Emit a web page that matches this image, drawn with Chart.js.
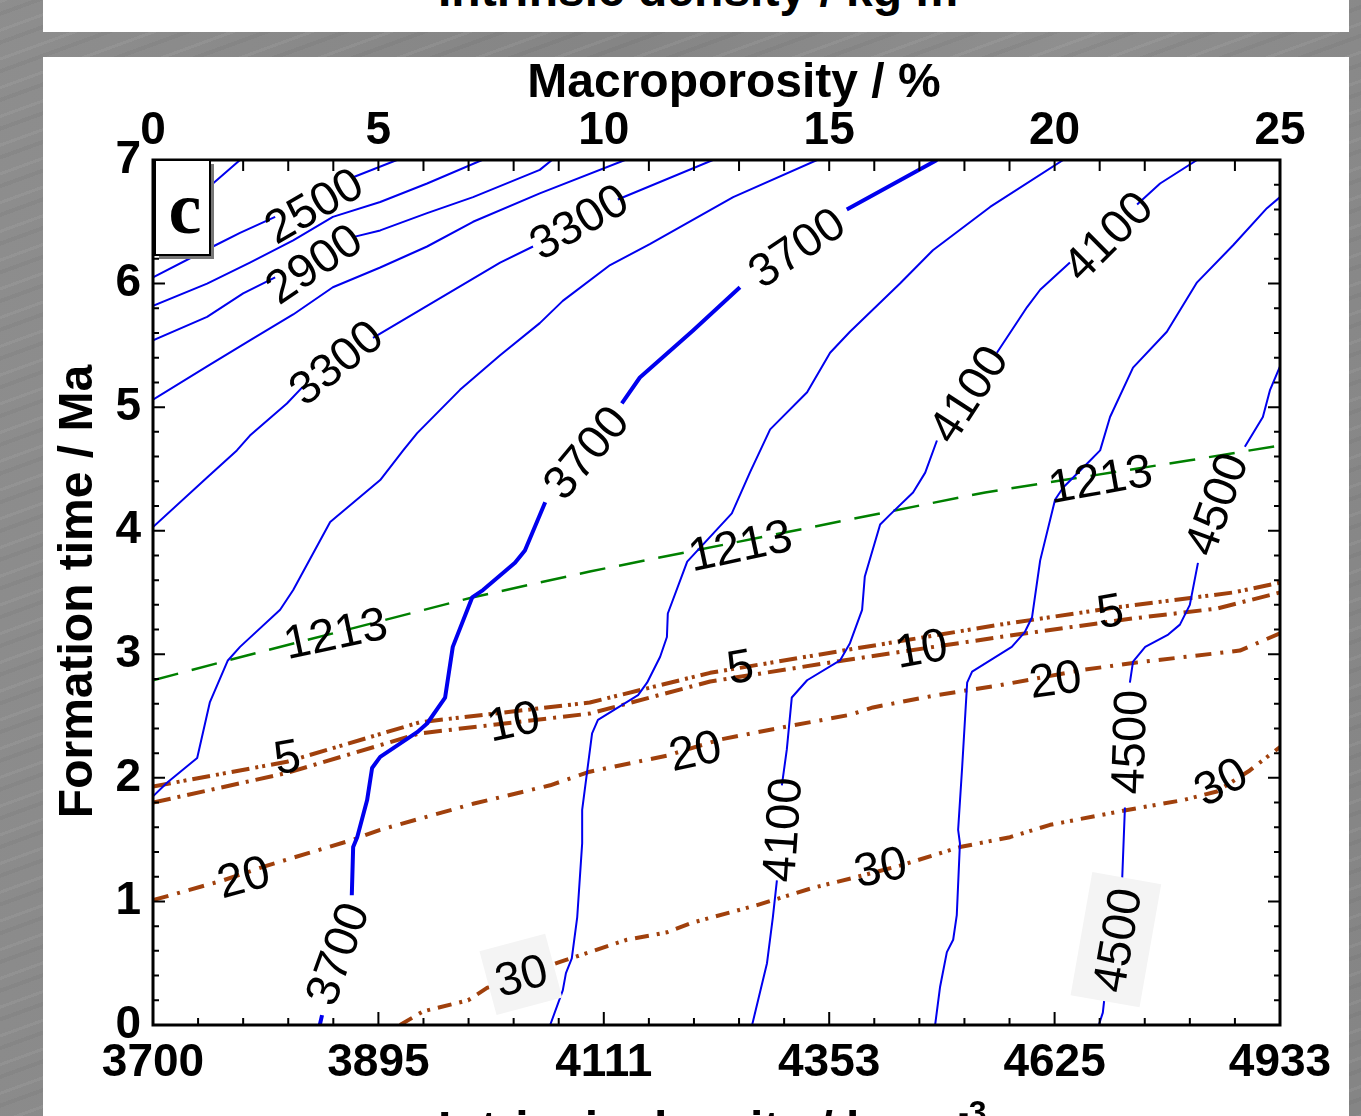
<!DOCTYPE html>
<html>
<head>
<meta charset="utf-8">
<script src="https://cdn.jsdelivr.net/npm/chart.js@4.4.1/dist/chart.umd.min.js"></script>
<style>
  body {
    margin: 0; width: 1361px; height: 1116px; overflow: hidden; position: relative;
    background-color: #898989;
    background-image:
      repeating-linear-gradient(160deg, rgba(255,255,255,.06) 0 3px, rgba(255,255,255,0) 3px 11px, rgba(0,0,0,.04) 11px 15px, rgba(255,255,255,0) 15px 27px),
      linear-gradient(100deg, rgba(255,255,255,.04), rgba(0,0,0,.03) 40%, rgba(255,255,255,.05) 70%, rgba(0,0,0,.03));
  }
  .panel { position: absolute; background: #fff; }
  .titulo { position: absolute; font: bold 48px "Liberation Sans", Arial, sans-serif; line-height: 48px; white-space: nowrap; color: #000; }
  .titulo sup { font-size: 32px; vertical-align: baseline; position: relative; top: -22px; }
</style>
</head>
<body>
<div class="panel" style="left:43px;top:0;width:1306px;height:32px;overflow:hidden">
  <div class="titulo" style="left:395px;top:-34px">Intrinsic density / kg m<sup>-3</sup></div>
</div>
<div class="panel" style="left:43px;top:57px;width:1306px;height:1059px"></div>
<canvas id="grafico" width="1306" height="1059" style="position:absolute;left:43px;top:57px"></canvas>
<div class="titulo" style="left:438px;top:1105px">Intrinsic density / kg m<sup>-3</sup></div>

<script>
// eje x: macroporosidad (%), eje y: tiempo de formacion (Ma)
const etiquetasDensidad = ['3700', '3895', '4111', '4353', '4625', '4933'];

// isolineas de densidad intrinseca (null = hueco para la etiqueta)
const dens2300 = [[0, 6.40], [1.33, 6.81], [1.93, 7.0]];
const dens2500 = [[0, 6.05], [1.33, 6.30], [1.93, 6.41], [2.71, 6.54], null, [4.44, 6.86], [5.41, 7.0]];
const dens2700 = [[0, 5.82], [1.20, 6.00], [2.15, 6.17], [3.11, 6.35], [3.99, 6.54], [5.04, 6.66], [6.08, 6.81], [7.30, 7.0]];
const dens2900 = [[0, 5.54], [1.20, 5.73], [2.00, 5.92], [2.71, 6.05], null, [4.48, 6.38], [5.04, 6.43], [6.08, 6.57], [7.10, 6.70], [8.58, 6.92], [8.85, 7.0]];
const dens3100 = [[0, 5.06], [1.20, 5.33], [2.15, 5.54], [3.11, 5.75], [3.99, 5.97], [5.04, 6.13], [6.08, 6.30], [7.10, 6.50], [8.58, 6.73], [10.47, 7.0]];
const dens3300 = [[0, 4.03], [1.20, 4.43], [1.86, 4.65], [2.15, 4.77], [2.97, 5.03], [3.31, 5.16], null, [4.88, 5.56], [7.70, 6.17], [8.43, 6.30], null, [10.31, 6.68], [12.42, 7.0]];
const dens3500 = [[0, 1.85], [0.31, 1.96], [0.98, 2.16], [1.26, 2.61], [1.66, 2.95], [1.93, 3.06], [2.82, 3.36], [3.11, 3.52], [3.93, 4.07], [5.04, 4.41], [5.55, 4.65], [5.86, 4.79], [6.81, 5.14], [7.70, 5.42], [8.58, 5.68], [9.09, 5.86], [10.14, 6.15], [11.02, 6.32], [12.87, 6.70], [14.73, 7.0]];
const dens3700 = [[3.70, 0], [3.75, 0.08], null, [4.41, 1.05], [4.44, 1.44], [4.53, 1.52], [4.75, 1.82], [4.86, 2.08], [5.04, 2.17], [5.86, 2.37], [6.08, 2.44], [6.48, 2.65], [6.65, 3.06], [7.08, 3.46], [7.32, 3.52], [8.03, 3.74], [8.25, 3.84], [8.70, 4.23], null, [10.40, 5.03], [10.80, 5.24], [11.98, 5.62], [13.02, 5.97], null, [15.39, 6.60], [17.39, 7.0]];
const dens3900 = [[8.81, 0], [9.09, 0.28], [9.16, 0.42], [9.29, 0.54], [9.41, 0.87], [9.52, 1.47], [9.52, 1.74], [9.74, 2.36], [9.87, 2.47], [10.76, 2.67], [10.96, 2.77], [11.25, 2.98], [11.40, 3.14], [11.42, 3.33], [11.85, 3.75], [12.84, 4.14], [13.24, 4.47], [13.69, 4.82], [14.51, 5.12], [15.02, 5.44], [15.46, 5.61], [16.57, 6.00], [17.30, 6.27], [18.57, 6.62], [20.19, 7.0]];
const dens4100 = [[13.29, 0], [13.62, 0.50], [13.75, 0.87], [13.84, 1.17], null, [13.95, 1.94], [14.06, 2.23], [14.17, 2.65], [14.51, 2.79], [15.24, 2.95], [15.46, 3.09], [15.73, 3.36], [15.79, 3.63], [16.13, 4.05], [16.35, 4.13], [16.86, 4.31], [17.13, 4.47], [17.39, 4.73], null, [18.72, 5.44], [19.39, 5.81], [19.68, 5.95], [20.34, 6.17], null, [21.83, 6.64], [22.34, 6.81], [23.16, 7.0]];
const dens4300 = [[17.35, 0], [17.46, 0.31], [17.61, 0.59], [17.75, 0.69], [17.83, 0.89], [17.90, 1.47], [17.86, 1.58], [17.95, 2.09], [18.06, 2.77], [18.17, 2.86], [18.57, 2.95], [19.05, 3.06], [19.34, 3.18], [19.50, 3.30], [19.68, 3.76], [20.01, 4.25], [20.19, 4.35], [20.74, 4.55], [21.01, 4.65], [21.23, 4.92], [21.74, 5.32], [22.49, 5.61], [23.16, 6.01], [23.96, 6.31], [24.71, 6.61], [25, 6.70]];
const dens4500 = [[20.98, 0], [21.07, 0.10], [21.10, 0.20], null, [21.50, 1.19], [21.56, 1.76], null, [21.67, 2.77], [21.74, 2.94], [22.01, 3.06], [22.52, 3.16], [22.78, 3.24], [23.00, 3.40], [23.18, 3.74], null, [24.22, 4.68], [24.62, 4.92], [24.78, 5.14], [25, 5.33]];

// linea 1213 (verde) y curvas 5, 10, 20, 30 (marrones)
const linea1213 = [[0, 2.79], [1.66, 2.95], [7.08, 3.46], [9.69, 3.67], [18.46, 4.31], [23.0, 4.57], [25, 4.69]];
const curva5 = [[0, 1.93], [2.97, 2.13], [5.92, 2.45], [9.69, 2.61], [12.36, 2.85], [15.31, 3.03], [18.79, 3.24], [21.38, 3.38], [23.96, 3.50], [25, 3.58]];
const curva10 = [[0, 1.80], [2.97, 2.04], [5.92, 2.36], [9.69, 2.52], [12.36, 2.78], [15.31, 2.95], [18.79, 3.14], [21.74, 3.29], [23.60, 3.37], [25, 3.50]];
const curva20 = [[0, 1.01], [1.55, 1.17], [2.53, 1.29], [4.44, 1.50], [5.04, 1.58], [7.10, 1.79], [8.81, 1.94], [9.69, 2.05], [11.40, 2.18], [12.58, 2.31], [13.98, 2.41], [15.46, 2.51], [15.97, 2.57], [17.39, 2.67], [18.79, 2.75], [20.56, 2.87], [21.74, 2.93], [24.11, 3.03], [25, 3.17]];
const curva30 = [[5.48, 0], [5.99, 0.11], [6.99, 0.20], [7.41, 0.30], [9.03, 0.51], [10.51, 0.69], [11.40, 0.75], [11.98, 0.83], [13.40, 0.97], [14.64, 1.11], [15.53, 1.19], [16.57, 1.29], [17.90, 1.44], [19.01, 1.52], [19.90, 1.62], [21.61, 1.74], [22.85, 1.82], [23.60, 1.89], [24.33, 2.06], [25, 2.25]];

// etiquetas de las curvas: texto, posicion (x, y)
const etiquetas = [
  ['2500', 3.55, 6.64], ['2900', 3.55, 6.17], ['3300', 4.04, 5.37], ['3300', 9.43, 6.51],
  ['3700', 4.06, 0.58], ['3700', 9.58, 4.64], ['3700', 14.26, 6.30],
  ['4100', 13.93, 1.58], ['4100', 18.06, 5.11], ['4100', 21.16, 6.39],
  ['4500', 21.36, 0.69], ['4500', 21.63, 2.29], ['4500', 23.56, 4.22],
  ['1213', 4.04, 3.18], ['1213', 13.02, 3.89], ['1213', 21.01, 4.43],
  ['5', 2.97, 2.18], ['10', 7.99, 2.47], ['5', 13.02, 2.91], ['10', 17.04, 3.06], ['5', 21.23, 3.36],
  ['20', 2.00, 1.21], ['20', 12.02, 2.23], ['20', 20.01, 2.81],
  ['30', 8.16, 0.41], ['30', 16.13, 1.29], ['30', 23.67, 1.98]
];
// angulo de cada etiqueta (grados) y recuadro gris opcional
const angulos = [-30, -34, -39, -30, -70, -50, -34, -86, -57, -45, -80, -88, -70, -12, -12, -10,
  -10, -12, -10, -10, -10, -15, -12, -8, -15, -12, -28];
const recuadros = { 10: [125, 70], 24: [68, 66] };

const azul = '#0000ee';
const verde = '#008000';
const marron = '#a0400c';
const fuente = '"Liberation Sans", Arial, sans-serif';

const curvas = [
  { datos: dens2300, color: azul, ancho: 2 },
  { datos: dens2500, color: azul, ancho: 2 },
  { datos: dens2700, color: azul, ancho: 2 },
  { datos: dens2900, color: azul, ancho: 2 },
  { datos: dens3100, color: azul, ancho: 2 },
  { datos: dens3300, color: azul, ancho: 2 },
  { datos: dens3500, color: azul, ancho: 2 },
  { datos: dens3700, color: azul, ancho: 4 },
  { datos: dens3900, color: azul, ancho: 2 },
  { datos: dens4100, color: azul, ancho: 2 },
  { datos: dens4300, color: azul, ancho: 2 },
  { datos: dens4500, color: azul, ancho: 2 },
  { datos: linea1213, color: verde, ancho: 2.5, guion: [26, 14] },
  { datos: curva5, color: marron, ancho: 4, guion: [18, 6, 3, 4, 3, 6] },
  { datos: curva10, color: marron, ancho: 4, guion: [18, 7, 3, 7] },
  { datos: curva20, color: marron, ancho: 4, guion: [16, 9, 3, 9] },
  { datos: curva30, color: marron, ancho: 4, guion: [14, 8, 3, 6, 3, 8] }
];

function puntos(lista) {
  let ultimo = 0;
  return lista.map(p => {
    if (p) {
      ultimo = p[0];
      return { x: p[0], y: p[1] };
    }
    return { x: ultimo, y: null };
  });
}

const marco = {
  id: 'marco',
  afterDatasetsDraw(chart) {
    const { ctx, chartArea: ca, scales } = chart;
    const sx = scales.x, sy = scales.y;

    // etiquetas de las curvas
    ctx.save();
    ctx.font = '47px ' + fuente;
    ctx.textAlign = 'center';
    ctx.textBaseline = 'alphabetic';
    etiquetas.forEach((e, i) => {
      ctx.save();
      ctx.translate(sx.getPixelForValue(e[1]), sy.getPixelForValue(e[2]));
      ctx.rotate(angulos[i] * Math.PI / 180);
      const caja = recuadros[i];
      if (caja) {
        ctx.fillStyle = '#f4f4f4';
        ctx.fillRect(-caja[0] / 2, -caja[1] / 2, caja[0], caja[1]);
      }
      ctx.fillStyle = '#000';
      ctx.fillText(e[0], 0, 16.8);
      ctx.restore();
    });
    ctx.restore();

    // marcas hacia adentro
    ctx.save();
    ctx.strokeStyle = '#000';
    ctx.lineWidth = 2;
    ctx.beginPath();
    for (let v = 0; v <= 25; v++) {
      const x = sx.getPixelForValue(v);
      const abajo = v % 5 === 0 ? 13 : 7;
      ctx.moveTo(x, ca.bottom);
      ctx.lineTo(x, ca.bottom - abajo);
      ctx.moveTo(x, ca.top);
      ctx.lineTo(x, ca.top + 11);
    }
    for (let i = 0; i <= 35; i++) {
      const y = sy.getPixelForValue(i / 5);
      const largo = i % 5 === 0 ? 12 : 6;
      ctx.moveTo(ca.left, y);
      ctx.lineTo(ca.left + largo, y);
      ctx.moveTo(ca.right, y);
      ctx.lineTo(ca.right - largo, y);
    }
    ctx.stroke();
    ctx.lineWidth = 3;
    ctx.strokeRect(ca.left, ca.top, ca.right - ca.left, ca.bottom - ca.top);

    // recuadro "c"
    const bx = ca.left + 2, by = ca.top;
    ctx.fillStyle = '#777';
    ctx.fillRect(bx + 4, by + 4, 55, 95);
    ctx.fillStyle = '#fff';
    ctx.fillRect(bx, by, 55, 95);
    ctx.lineWidth = 2;
    ctx.strokeRect(bx, by, 55, 95);
    ctx.fillStyle = '#000';
    ctx.font = 'bold 74px "Liberation Serif", "Times New Roman", serif';
    ctx.textAlign = 'center';
    ctx.fillText('c', bx + 30, by + 73);

    // titulos de ejes
    ctx.font = 'bold 48px ' + fuente;
    ctx.fillText('Macroporosity / %', ca.left + 581, ca.top - 63);
    ctx.translate(ca.left - 61, (ca.top + ca.bottom) / 2 - 1);
    ctx.rotate(-Math.PI / 2);
    ctx.fillText('Formation time / Ma', 0, 0);
    ctx.restore();
  }
};

const fuenteTicks = { family: fuente, size: 46, weight: 'bold' };

new Chart(document.getElementById('grafico'), {
  type: 'line',
  data: {
    datasets: curvas.map(c => ({
      data: puntos(c.datos),
      borderColor: c.color,
      borderWidth: c.ancho,
      borderDash: c.guion || [],
      borderJoinStyle: 'round',
      pointRadius: 0,
      fill: false,
      tension: 0,
      spanGaps: false
    }))
  },
  options: {
    responsive: false,
    animation: false,
    layout: { padding: { left: 0, top: 0, right: 69, bottom: 0 } },
    plugins: { legend: { display: false }, tooltip: { enabled: false } },
    scales: {
      x: {
        type: 'linear', position: 'bottom', min: 0, max: 25,
        grid: { display: false, drawTicks: false }, border: { display: false },
        ticks: {
          stepSize: 5, autoSkip: false, maxRotation: 0, padding: 11, color: '#000', font: fuenteTicks,
          callback: v => etiquetasDensidad[Math.round(v / 5)]
        },
        afterFit: s => { s.height = 91; }
      },
      x2: {
        type: 'linear', axis: 'x', position: 'top', min: 0, max: 25,
        grid: { display: false, drawTicks: false }, border: { display: false },
        ticks: { stepSize: 5, autoSkip: false, maxRotation: 0, padding: 1, color: '#000', font: fuenteTicks },
        afterFit: s => { s.height = 103; }
      },
      y: {
        type: 'linear', position: 'left', min: 0, max: 7,
        grid: { display: false, drawTicks: false }, border: { display: false },
        ticks: { stepSize: 1, padding: 12, color: '#000', font: fuenteTicks },
        afterFit: s => { s.width = 110; }
      }
    }
  },
  plugins: [marco]
});
</script>
</body>
</html>
